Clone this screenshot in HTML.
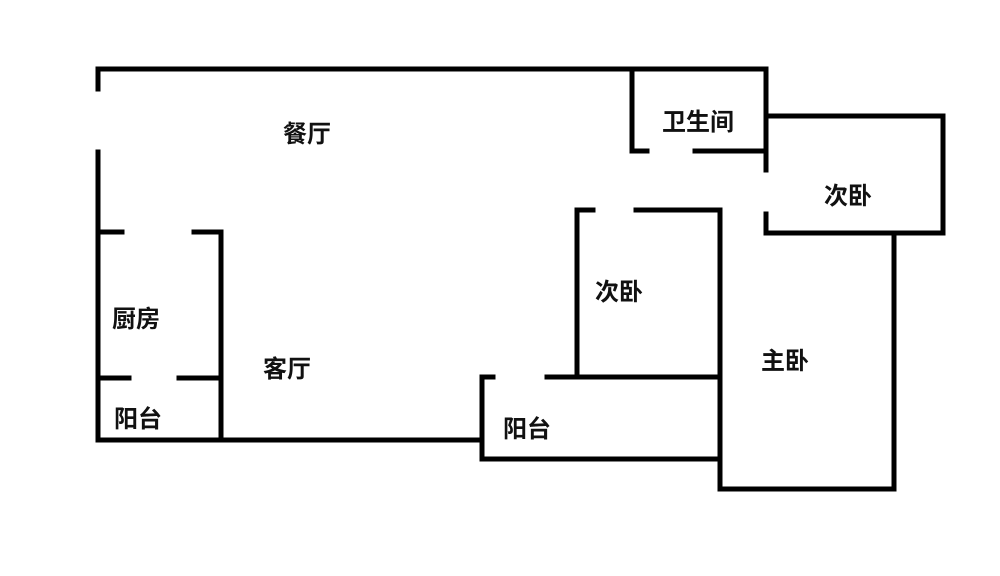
<!DOCTYPE html>
<html><head><meta charset="utf-8"><style>
html,body{margin:0;padding:0;background:#fff;width:1000px;height:576px;overflow:hidden}
text{font-family:"Liberation Sans","Noto Sans CJK SC",sans-serif;font-weight:bold;font-size:24px;fill:#111}
</style></head><body>
<svg width="1000" height="576" viewBox="0 0 1000 576" xmlns="http://www.w3.org/2000/svg">
<g stroke="#000" stroke-width="5" fill="none" stroke-linecap="square" stroke-linejoin="miter">
<polyline points="98,89 98,69 766,69 766,170"/>
<polyline points="98,152 98,440 482,440"/>
<polyline points="98,232 122,232"/>
<polyline points="194,232 221,232 221,440"/>
<polyline points="98,378 129,378"/>
<polyline points="179,378 221,378"/>
<polyline points="632,69 632,151 647,151"/>
<polyline points="695,151 766,151"/>
<polyline points="766,116 943,116 943,233 766,233 766,214"/>
<polyline points="894,233 894,489 720,489 720,210 636,210"/>
<polyline points="593,210 577,210 577,377"/>
<polyline points="547,377 720,377"/>
<polyline points="493,377 482,377 482,459 720,459"/>
</g>
<text x="307" y="142" text-anchor="middle">餐厅</text>
<text x="698" y="130" text-anchor="middle">卫生间</text>
<text x="848" y="204" text-anchor="middle">次卧</text>
<text x="619" y="300" text-anchor="middle">次卧</text>
<text x="785" y="369" text-anchor="middle">主卧</text>
<text x="136" y="327" text-anchor="middle">厨房</text>
<text x="287" y="377" text-anchor="middle">客厅</text>
<text x="138" y="427" text-anchor="middle">阳台</text>
<text x="527" y="437" text-anchor="middle">阳台</text>
</svg>
</body></html>
